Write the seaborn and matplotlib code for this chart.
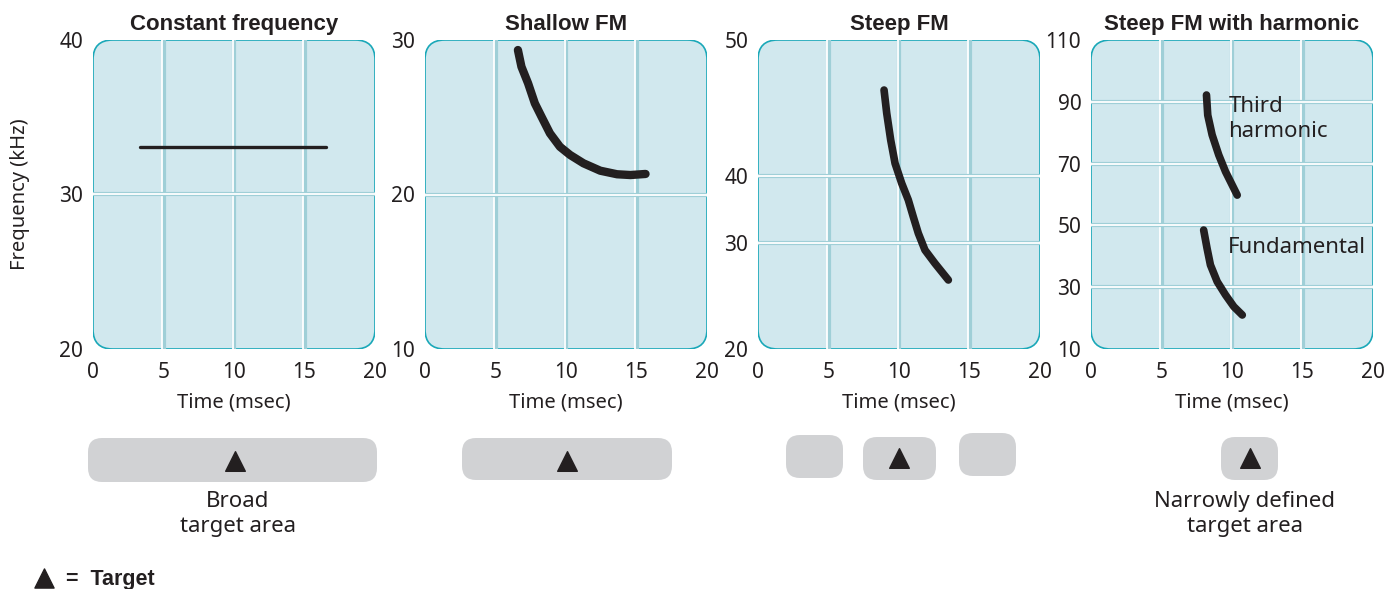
import numpy as np
import pandas as pd
import matplotlib.pyplot as plt
import seaborn as sns
from matplotlib.patches import FancyBboxPatch

# data
cf_time = [3.3, 16.5]
cf_freq = [33.1, 33.1]

shallow_time = [6.59, 6.84, 7.31, 7.79, 8.26, 8.86, 9.57, 10.29, 11.24, 12.43, 13.62, 14.57, 15.64]
shallow_freq = [29.35, 28.27, 27.20, 25.90, 25.04, 23.96, 23.09, 22.56, 22.02, 21.54, 21.31, 21.26, 21.33]

steep_time = [8.94, 9.13, 9.41, 9.72, 10.19, 10.66, 11.01, 11.37, 11.84, 12.55, 13.50]
steep_freq = [46.32, 44.61, 42.65, 40.93, 38.91, 36.42, 33.93, 31.45, 29.34, 28.08, 26.51]

third_time = [8.19, 8.28, 8.59, 9.06, 9.54, 10.01, 10.37]
third_freq = [92.2, 85.7, 79.3, 72.8, 67.4, 63.1, 59.8]
fund_time = [7.99, 8.23, 8.47, 8.95, 9.54, 10.13, 10.73]
fund_freq = [48.5, 42.6, 37.2, 31.8, 27.5, 23.7, 21.0]

titles = ["Constant frequency", "Shallow FM", "Steep FM", "Steep FM with harmonic"]
x_ticks = [0, 5, 10, 15, 20]
y_ticks = [[20, 30, 40], [10, 20, 30], [20, 30, 40, 50], [10, 30, 50, 70, 90, 110]]
y_grid = [[30], [20], [30, 40], [30, 50, 70, 90]]

# steep FM panel uses an uneven frequency axis
steep_vals = [20, 30, 40, 50]
steep_pos = [0, 0.343, 0.56, 1.0]

sns.set_style("white")
plt.rcParams['font.family'] = ['Noto Sans', 'DejaVu Sans']

W, H = 1393, 589
fig = plt.figure(figsize=(W / 100, H / 100), dpi=100)

# overlay in pixel coordinates for the target-area sketches
ov = fig.add_axes([0, 0, 1, 1])
ov.set_xlim(0, W)
ov.set_ylim(H, 0)
ov.axis('off')

bg = '#d1e8ee'
edge = '#1aa8b8'
ink = '#231f20'
gray = '#d1d2d4'

lefts = [93, 425, 758, 1091]
ax_w, ax_top, ax_bot = 282, 40, 349

axes = []
for i, left in enumerate(lefts):
    ax = fig.add_axes([left / W, 1 - ax_bot / H, ax_w / W, (ax_bot - ax_top) / H])
    axes.append(ax)
    ax.patch.set_visible(False)
    for s in ax.spines.values():
        s.set_visible(False)
    box = FancyBboxPatch((0, 0), 1, 1, boxstyle="round,pad=0,rounding_size=0.07",
                         mutation_aspect=282 / 309, transform=ax.transAxes,
                         facecolor=bg, edgecolor=edge, lw=1.2, zorder=0)
    ax.add_patch(box)
    if i == 2:
        ax.set_yscale('function', functions=(lambda v: np.interp(v, steep_vals, steep_pos),
                                             lambda p: np.interp(p, steep_pos, steep_vals)))
    ax.set_xlim(0, 20)
    ax.set_ylim(y_ticks[i][0], y_ticks[i][-1])
    for gx in [5, 10, 15]:
        ax.axvline(gx, color='#9fcfd7', lw=3, zorder=1)
        ax.axvline(gx - 0.08, color='white', lw=1.3, zorder=1)
    for gy in y_grid[i]:
        ax.axhline(gy, color='#9fcfd7', lw=3, zorder=1)
        ax.axhline(gy, color='white', lw=1.3, zorder=1)
    ax.set_xticks(x_ticks)
    ax.set_yticks(y_ticks[i])
    ax.tick_params(length=0, labelsize=15, pad=7, colors=ink)
    ax.tick_params(axis='x', pad=9)
    ax.set_xlabel("Time (msec)", fontsize=14.5, labelpad=7, color=ink)
    ax.set_title(titles[i], fontsize=16, fontweight='bold', family='Liberation Sans',
                 pad=7, color=ink)

axes[0].set_ylabel("Frequency (kHz)", fontsize=14.5, labelpad=21, color=ink)

line_kw = dict(color=ink, solid_capstyle='round', solid_joinstyle='round', legend=False)
sns.lineplot(x=cf_time, y=cf_freq, ax=axes[0], lw=2.4, **line_kw)
sns.lineplot(x=shallow_time, y=shallow_freq, ax=axes[1], lw=6, sort=False, **line_kw)
sns.lineplot(x=steep_time, y=steep_freq, ax=axes[2], lw=5.5, sort=False, **line_kw)
sns.lineplot(x=third_time, y=third_freq, ax=axes[3], lw=5.5, sort=False, **line_kw)
sns.lineplot(x=fund_time, y=fund_freq, ax=axes[3], lw=5.5, sort=False, **line_kw)
for ax in axes:
    for ln in ax.lines[-2:]:
        ln.set_zorder(3)

axes[3].text(9.75, 92, "Third\nharmonic", fontsize=16, va='top', ha='left',
             color=ink, linespacing=1.25)
axes[3].text(9.68, 43, "Fundamental", fontsize=16, va='center', ha='left', color=ink)

# target area boxes: (x0, y0, x1, y1) in pixels
boxes = [(88, 438, 377, 482), (462, 438, 672, 480),
         (786, 435, 843, 478), (863, 437, 936, 480), (959, 433, 1016, 476),
         (1221, 437, 1278, 480)]
for x0, y0, x1, y1 in boxes:
    ov.add_patch(FancyBboxPatch((x0, y0), x1 - x0, y1 - y0,
                                boxstyle="round,pad=0,rounding_size=14",
                                facecolor=gray, edgecolor='none'))
targets_x = [235, 567, 899, 1250]
targets_y = [461, 461, 458, 458]
ov.scatter(targets_x, targets_y, marker='^', s=200, color=ink, zorder=3)

ov.text(238, 514, "Broad\ntarget area", fontsize=16, ha='center', va='center',
        color=ink, linespacing=1.3)
ov.text(1245, 514, "Narrowly defined\ntarget area", fontsize=16, ha='center',
        va='center', color=ink, linespacing=1.3)

ov.scatter([44], [578], marker='^', s=190, color=ink)
ov.text(66, 579, "=  Target", fontsize=15.5, fontweight='bold', family='Liberation Sans',
        ha='left', va='center', color=ink)

fig.savefig("out.png", dpi=100)
